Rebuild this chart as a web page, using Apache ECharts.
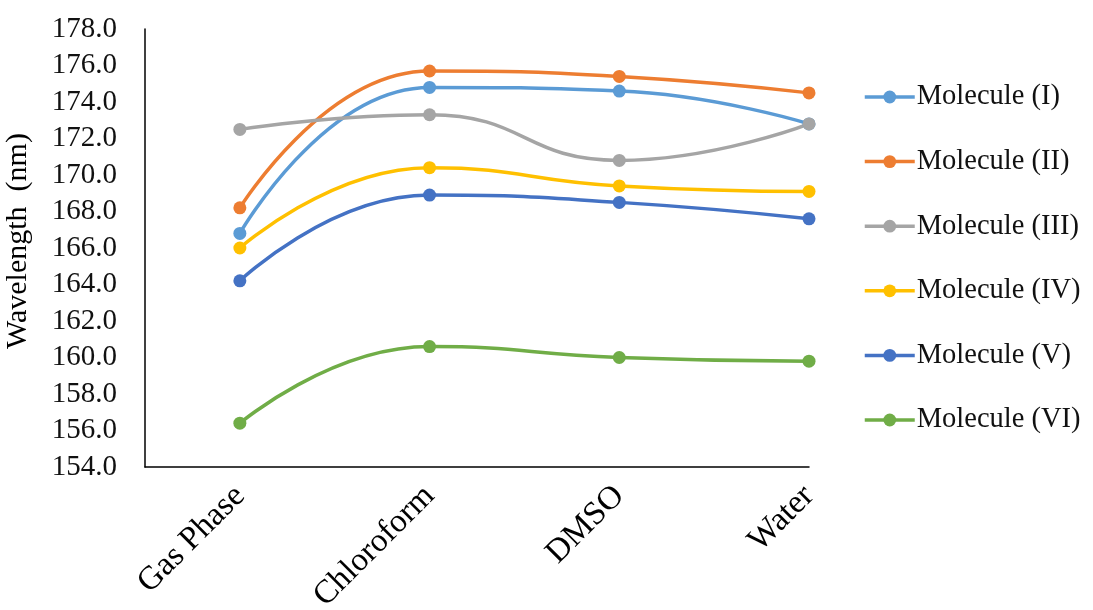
<!DOCTYPE html>
<html>
<head>
<meta charset="utf-8">
<title>Wavelength by solvent</title>
<script src="https://cdn.jsdelivr.net/npm/echarts@6/dist/echarts.min.js"></script>
<style>
  html, body { margin: 0; padding: 0; background: #fff; }
  #chart { width: 1093px; height: 610px; }
</style>
</head>
<body>
<div id="chart"></div>
<script>
// Solvent environments along the x axis
const categories = ['Gas Phase', 'Chloroform', 'DMSO', 'Water'];

// Wavelength (nm) of each molecule in each environment
const moleculeI   = [166.8, 174.8, 174.6, 172.8];
const moleculeII  = [168.2, 175.7, 175.4, 174.5];
const moleculeIII = [172.5, 173.3, 170.8, 172.8];
const moleculeIV  = [166.0, 170.4, 169.4, 169.1];
const moleculeV   = [164.2, 168.9, 168.5, 167.6];
const moleculeVI  = [156.4, 160.6, 160.0, 159.8];

const seriesNames = ['Molecule (I)', 'Molecule (II)', 'Molecule (III)',
                     'Molecule (IV)', 'Molecule (V)', 'Molecule (VI)'];
const seriesValues = [moleculeI, moleculeII, moleculeIII, moleculeIV, moleculeV, moleculeVI];
const seriesColors = ['#5B9BD5', '#ED7D31', '#A5A5A5', '#FFC000', '#4472C4', '#70AD47'];

// Y axis range and step
const yMin = 154, yMax = 178, yStep = 2;

const FONT = '"Liberation Serif", "Times New Roman", serif';

const chart = echarts.init(document.getElementById('chart'), null, { renderer: 'canvas' });

// Categories sit at integer positions 0..3 on a numeric x axis
const categoryPositions = categories.map((_, i) => i);

const series = seriesNames.map((name, k) => ({
  name: name,
  type: 'line',
  smooth: 0.5,
  symbol: 'circle',
  symbolSize: 13,
  showSymbol: true,
  color: seriesColors[k],
  lineStyle: { width: 3.5, color: seriesColors[k] },
  itemStyle: { color: seriesColors[k] },
  data: seriesValues[k].map((v, i) => [i, v])
}));

chart.setOption({
  animation: false,
  backgroundColor: '#ffffff',
  grid: {
    left: 145, right: 284, top: 29, bottom: 143,
    containLabel: false,
    outerBoundsMode: 'none'
  },
  legend: {
    orient: 'vertical',
    left: 858,
    top: 77,
    itemWidth: 50,
    itemHeight: 16,
    itemGap: 34.6,
    lineStyle: { width: 3.5 },
    textStyle: { fontFamily: FONT, fontSize: 28.5, color: '#111', lineHeight: 30, padding: [0, 0, 0, -3] },
    data: seriesNames
  },
  xAxis: {
    type: 'value',
    min: -0.5,
    max: categories.length - 1,
    splitLine: { show: false },
    axisTick: { show: false },
    axisLine: { show: true, onZero: false, lineStyle: { color: '#000', width: 1.5 } },
    axisLabel: {
      customValues: categoryPositions,
      formatter: v => categories[Math.round(v)] || '',
      rotate: 45,
      margin: 24,
      fontFamily: FONT,
      fontSize: 33,
      color: '#000'
    }
  },
  yAxis: {
    type: 'value',
    min: yMin,
    max: yMax,
    interval: yStep,
    name: 'Wavelength  (nm)',
    nameLocation: 'middle',
    nameRotate: 90,
    nameGap: 112,
    nameTextStyle: { fontFamily: FONT, fontSize: 30, color: '#000', padding: [0, 0, 0, 14] },
    splitLine: { show: false },
    axisTick: { show: false },
    axisLine: { show: true, onZero: false, lineStyle: { color: '#000', width: 1.5 } },
    axisLabel: {
      formatter: v => v.toFixed(1),
      margin: 28,
      fontFamily: FONT,
      fontSize: 29,
      color: '#111'
    }
  },
  series: series
});
</script>
</body>
</html>
